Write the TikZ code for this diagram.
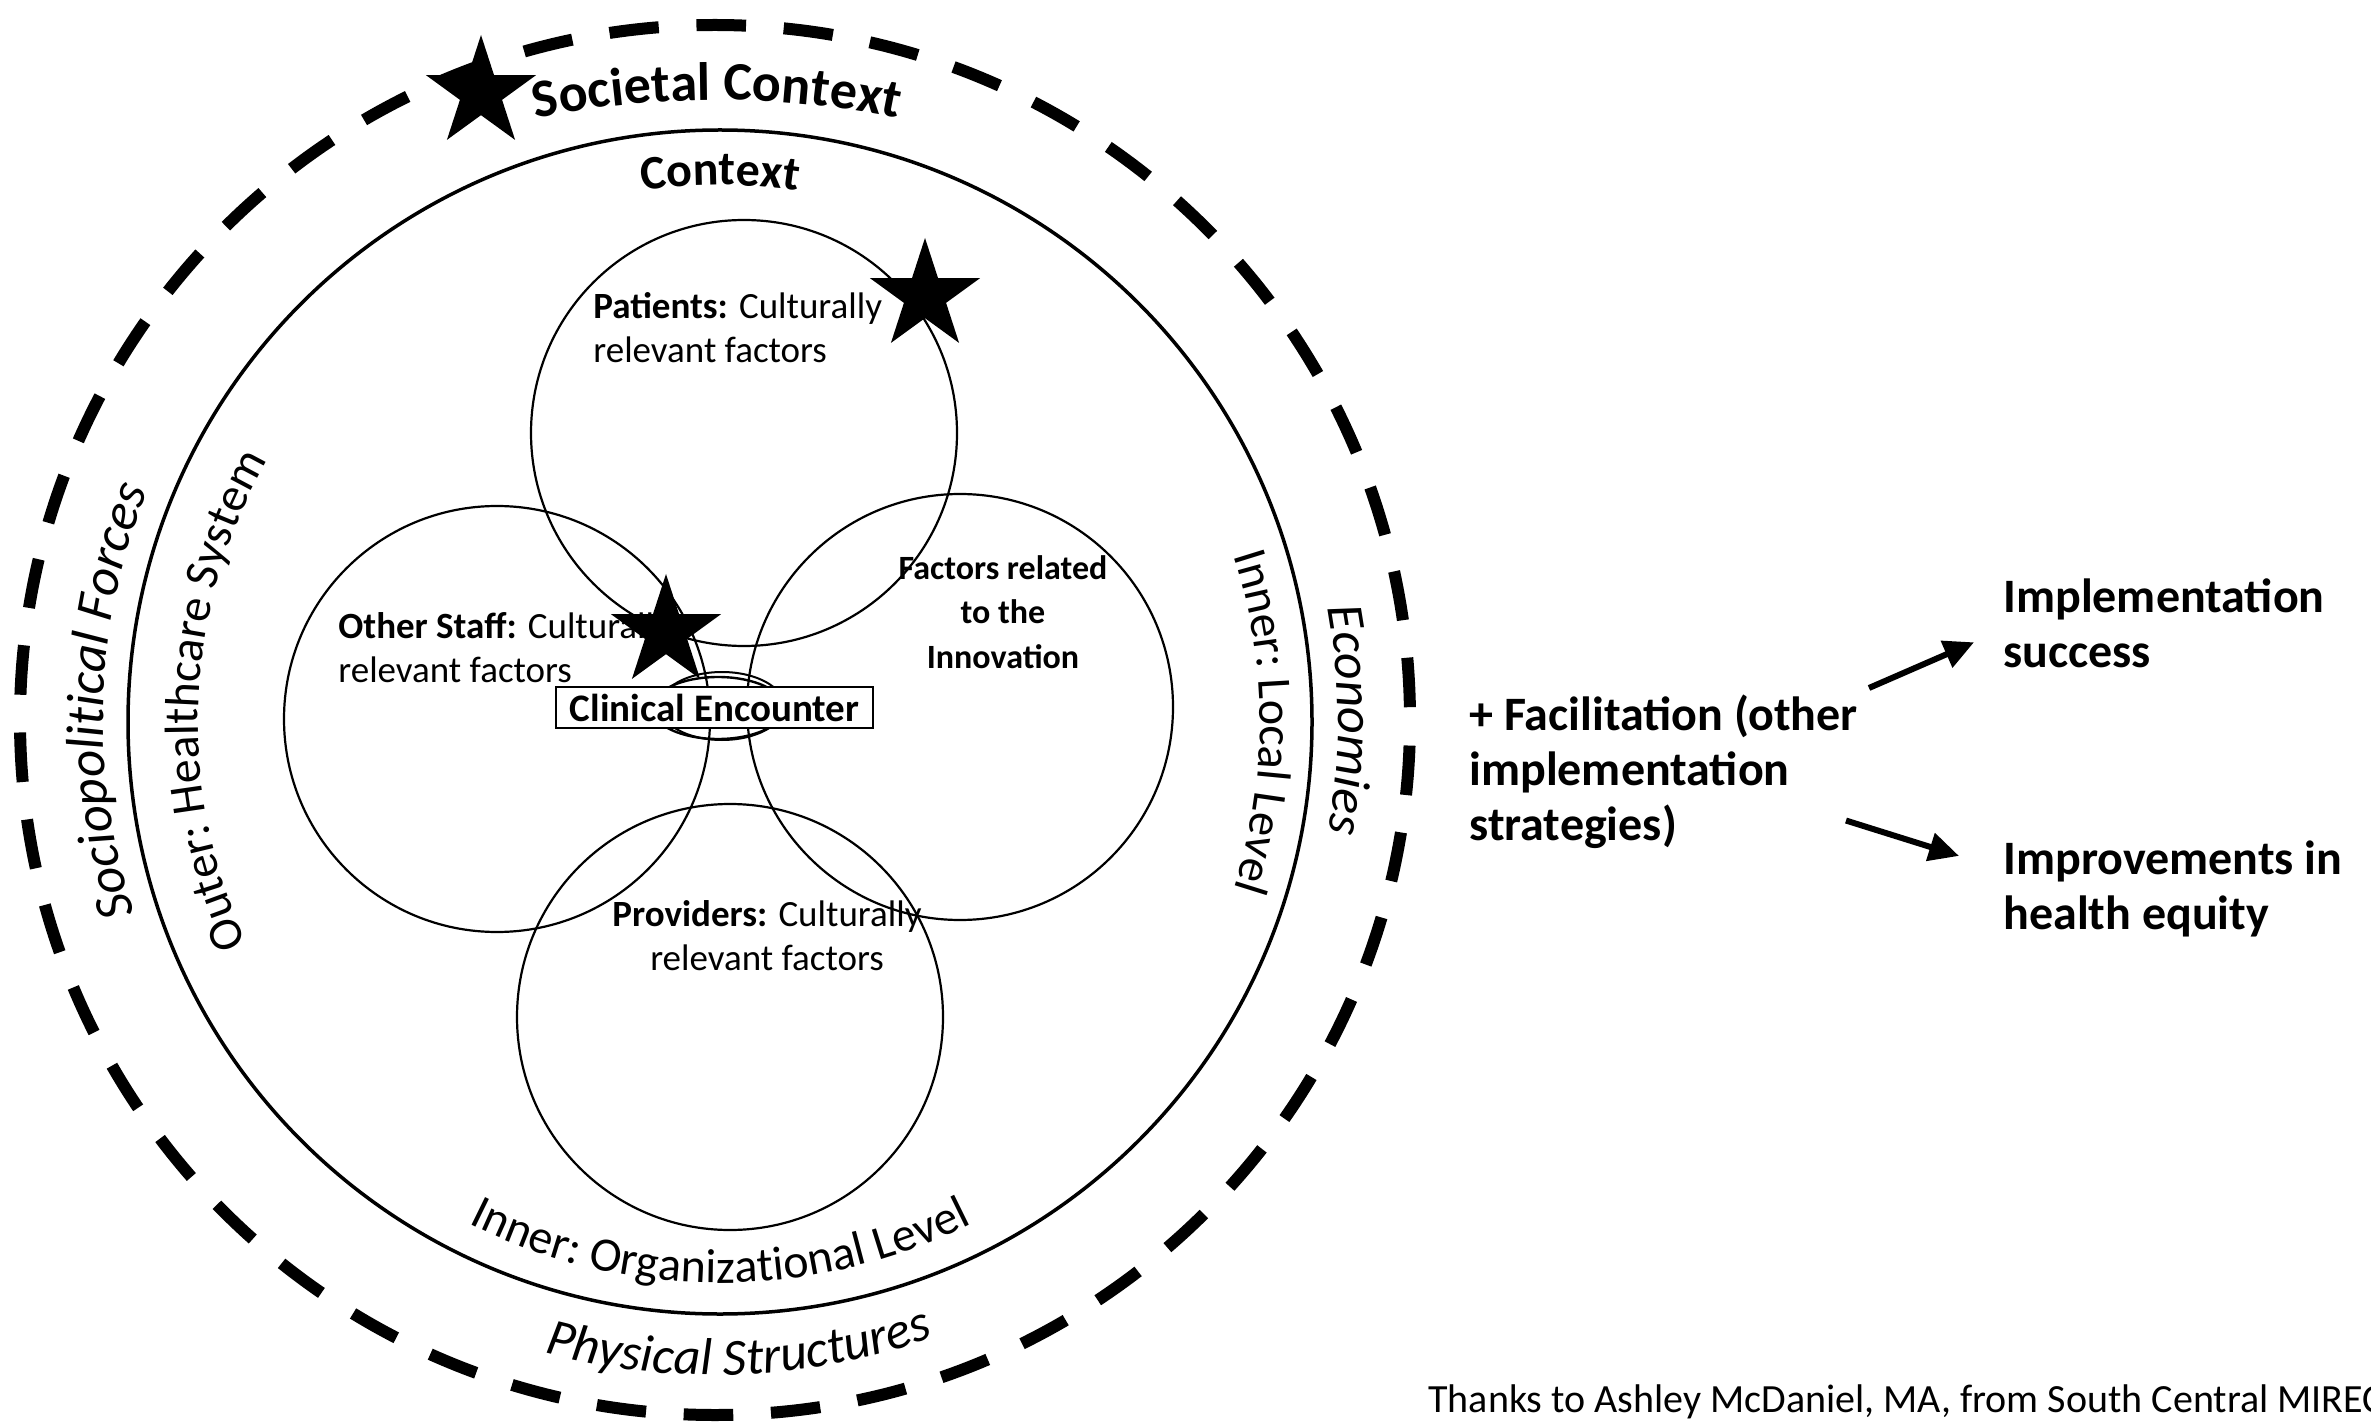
\documentclass[tikz,border=0pt]{standalone}
\usepackage{fontspec}
\setmainfont{Carlito}
\usetikzlibrary{shapes.geometric,decorations.text,arrows.meta}

% text set along a circular arc: centre, radius, start angle, end angle, format, text
\newcommand\arclabel[6]{%
  \path[decorate,decoration={text along path,text align=center,text={|#5|#6}}]
    (#1) ++(#3:#2) arc[start angle=#3,end angle=#4,radius=#2];}

\begin{document}
\begin{tikzpicture}[x=0.5pt,y=0.5pt,
  bigring/.style={line width=1.75pt},
  subcircle/.style={line width=1.1pt},
  dashring/.style={line width=6pt,dash pattern=on 24.8pt off 18.868pt,dash phase=37.27pt},
  starmark/.style={star,star points=5,star point ratio=2.618,fill=black,draw=none,minimum size=58pt,inner sep=0pt},
  factortext/.style={inner sep=0pt,font=\fontsize{18.5}{22}\selectfont},
  outcome/.style={inner sep=0pt,align=left,font=\bfseries\fontsize{24}{27.5}\selectfont},
  flow/.style={line width=3pt,-{Triangle[length=15pt,width=14pt]}},
]
\useasboundingbox (0,0) rectangle (2371,-1422);
\fill[white] (0,0) rectangle (2371,-1422);
\clip (0,0) rectangle (2371,-1422);

% centres of the rings
\coordinate (oc) at (715,-720);
\coordinate (ic) at (720,-722);
\coordinate (sc) at (717,-1000);

% the four overlapping domains
\draw[subcircle] (744,-433) circle[radius=213];
\draw[subcircle] (497,-719) circle[radius=213];
\draw[subcircle] (960,-707) circle[radius=213];
\draw[subcircle] (730,-1017) circle[radius=213];

% context rings
\draw[bigring] (ic) circle[radius=592];
\draw[dashring] (oc) circle[radius=695];

% sketched oval where the domains meet
\draw[line width=1.2pt] (718,-708) ellipse[x radius=66,y radius=31];
\draw[line width=1pt] (722,-706) ellipse[x radius=62,y radius=34];

% ring labels
\arclabel{sc}{900}{110}{70}{\bfseries\fontsize{27}{30}\selectfont}{Societal Context}
\arclabel{ic}{537}{110}{70}{\bfseries\fontsize{24}{28}\selectfont}{Context}
\arclabel{oc}{612}{213.2}{143.2}{\itshape\fontsize{26.5}{30}\selectfont}{Sociopolitical Forces}
\arclabel{ic}{522}{217.5}{137.5}{\fontsize{24}{28}\selectfont}{Outer: Healthcare System}
\arclabel{ic}{540}{40}{-40}{\fontsize{24}{28}\selectfont}{Inner: Local Level}
\arclabel{oc}{623}{35}{-35}{\itshape\fontsize{26}{30}\selectfont}{Economies}
\arclabel{ic}{561}{230}{310}{\fontsize{24}{28}\selectfont}{Inner: Organizational Level}
\arclabel{oc}{655}{242.2}{302.2}{\itshape\fontsize{26}{30}\selectfont}{Physical Structures}

% domain texts (anchored at the baseline of their last line)
\node[factortext,anchor=base west,align=left] (patients) at (593,-363)
  {\textbf{Patients:} Culturally\\relevant factors};
\node[factortext,anchor=base west,align=left] (staff) at (338,-682)
  {\textbf{Other Staff:} Culturally\\relevant factors};
\node[factortext,anchor=base,align=center,font=\bfseries\fontsize{17}{22}\selectfont] (innovation) at (1003,-668)
  {Factors related\\to the\\Innovation};
\node[factortext,anchor=base,align=center] (providers) at (767,-970)
  {\textbf{Providers:} Culturally\\relevant factors};

\node[draw,fill=white,line width=1.4pt,minimum width=158.5pt,minimum height=20.5pt,inner sep=0pt,
  font=\bfseries\fontsize{19.5}{22}\selectfont] (encounter) at (714.5,-707.5) {Clinical Encounter};

% stars
\node[starmark] (star1) at (481,-93) {};
\node[starmark] (star2) at (925,-296) {};
\node[starmark] (star3) at (666,-632) {};

% strategies and outcomes
\node[outcome,anchor=base west] (facil) at (1469,-840) {+ Facilitation (other\\implementation\\strategies)};
\node[outcome,anchor=base west] (success) at (2003,-667) {Implementation\\success};
\node[outcome,anchor=base west] (equity) at (2003,-929) {Improvements in\\health equity};

\draw[flow] ([xshift=5.5pt,yshift=3pt]facil.north east) -- ([xshift=-14.5pt,yshift=-9.75pt]success.west);
\draw[flow] ([xshift=-6pt,yshift=14pt]facil.south east) -- ([xshift=-22pt,yshift=16.25pt]equity.west);

\node[anchor=base west,inner sep=0pt,font=\fontsize{20}{22}\selectfont] (credit) at (1428,-1412)
  {Thanks to Ashley McDaniel, MA, from South Central MIREC};
\end{tikzpicture}
\end{document}
